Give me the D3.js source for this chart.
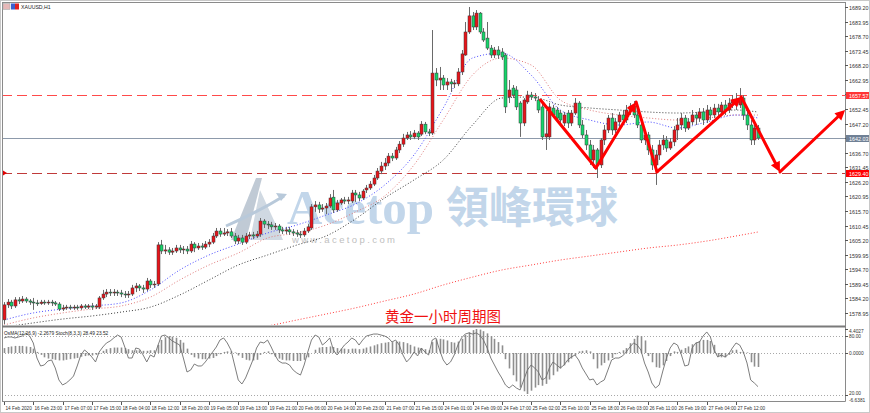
<!DOCTYPE html>
<html>
<head>
<meta charset="utf-8">
<script src="https://cdn.jsdelivr.net/npm/d3@7"></script>
<style>
  html, body { margin: 0; padding: 0; background: #fff; }
  svg { display: block; }
</style>
</head>
<body>
<svg id="chart" width="870" height="413"></svg>
<script>
// ---- data (XAUUSD H1) ----
// [open, high, low, close]
var candles = [
  [1576.5,1582.9,1575.0,1581.9],[1581.9,1584.0,1580.8,1582.9],[1582.9,1583.7,1580.4,1581.5],[1581.5,1584.7,1580.8,1583.7],
  [1583.7,1584.7,1582.2,1583.3],[1583.3,1585.1,1582.6,1584.0],[1584.0,1584.7,1582.6,1583.3],[1583.3,1584.0,1581.9,1582.9],
  [1582.9,1584.4,1580.1,1582.6],[1582.6,1583.7,1581.5,1582.4],[1582.4,1583.7,1581.9,1582.9],[1582.9,1583.7,1581.9,1582.6],
  [1582.6,1583.7,1581.9,1582.9],[1582.9,1583.7,1581.5,1582.6],[1582.6,1583.3,1581.5,1582.2],[1582.2,1582.9,1579.7,1580.4],
  [1580.4,1581.9,1579.7,1580.8],[1580.8,1581.9,1580.1,1581.1],[1581.1,1581.9,1580.1,1580.8],[1580.8,1581.9,1580.1,1581.1],
  [1581.1,1581.9,1580.1,1580.8],[1580.8,1582.2,1580.1,1581.5],[1581.5,1582.2,1580.4,1581.1],[1581.1,1582.2,1580.4,1581.5],
  [1581.5,1582.6,1580.1,1581.1],[1581.1,1582.2,1580.4,1581.5],[1581.1,1585.1,1580.4,1584.4],[1584.4,1587.3,1583.7,1585.8],
  [1585.8,1587.6,1584.7,1586.5],[1586.5,1587.6,1585.1,1586.2],[1586.2,1587.6,1585.1,1586.5],[1586.5,1587.3,1585.1,1586.2],
  [1586.2,1587.3,1584.7,1585.8],[1585.8,1586.9,1584.4,1585.5],[1585.5,1586.9,1584.4,1585.8],[1585.8,1589.1,1585.1,1588.0],
  [1588.0,1589.8,1586.5,1588.7],[1588.7,1589.4,1586.9,1588.0],[1588.0,1589.1,1586.2,1587.6],[1587.6,1591.6,1586.9,1590.5],
  [1590.5,1591.2,1588.0,1589.1],[1589.1,1590.5,1588.0,1589.4],[1589.4,1604.5,1588.7,1603.5],[1603.5,1605.3,1600.2,1601.3],
  [1601.3,1603.5,1600.2,1601.7],[1601.7,1602.7,1599.9,1600.9],[1600.9,1602.4,1599.9,1601.3],[1601.3,1603.5,1600.6,1602.4],
  [1602.4,1603.5,1600.6,1601.7],[1601.7,1603.1,1600.2,1602.0],[1602.0,1603.1,1600.2,1601.3],[1601.3,1604.9,1600.6,1603.8],
  [1603.8,1604.5,1600.9,1602.4],[1602.4,1604.2,1601.7,1603.1],[1603.1,1604.2,1601.7,1602.7],[1602.7,1604.9,1602.0,1603.8],
  [1603.8,1605.6,1602.7,1604.5],[1604.5,1607.8,1603.8,1606.7],[1606.7,1609.6,1606.0,1608.5],[1608.5,1609.6,1606.4,1607.4],
  [1607.4,1609.6,1606.7,1607.8],[1607.8,1609.2,1606.7,1608.2],[1608.2,1609.6,1606.0,1606.7],[1606.7,1607.8,1603.8,1604.9],
  [1604.9,1607.1,1603.8,1606.0],[1606.0,1607.1,1603.5,1604.5],[1604.5,1607.8,1603.8,1606.7],[1606.7,1608.2,1605.6,1607.1],
  [1607.1,1608.2,1605.6,1606.7],[1606.7,1608.5,1606.0,1607.4],[1607.4,1613.2,1606.4,1612.1],[1612.1,1612.8,1609.6,1611.0],
  [1611.0,1612.1,1609.2,1610.7],[1610.7,1611.8,1608.9,1610.0],[1610.0,1611.4,1608.9,1610.3],[1610.3,1611.0,1607.8,1608.9],
  [1608.9,1610.0,1607.4,1608.5],[1608.5,1610.0,1607.4,1608.9],[1608.9,1610.0,1607.1,1608.2],[1608.2,1609.2,1606.7,1607.8],
  [1607.8,1608.9,1606.4,1607.4],[1607.4,1608.5,1606.0,1607.1],[1607.1,1609.6,1606.4,1608.5],[1608.5,1611.0,1607.8,1610.0],
  [1609.6,1618.2,1608.9,1617.2],[1617.2,1619.3,1615.4,1617.9],[1617.9,1619.0,1615.0,1616.4],[1616.4,1618.2,1615.4,1616.8],
  [1616.8,1618.6,1614.6,1617.5],[1617.5,1621.8,1616.8,1620.4],[1620.7,1623.3,1615.0,1616.1],[1616.1,1619.7,1615.4,1618.6],
  [1618.6,1620.4,1617.9,1619.7],[1619.7,1620.8,1618.2,1619.3],[1619.3,1620.8,1618.2,1619.7],[1619.3,1623.3,1618.6,1622.2],
  [1622.2,1623.3,1619.0,1621.5],[1621.5,1622.6,1619.3,1620.4],[1620.4,1623.6,1619.7,1622.9],[1623.3,1625.1,1622.2,1624.0],
  [1624.0,1626.5,1623.3,1625.4],[1625.4,1628.7,1624.7,1627.6],[1627.6,1631.2,1626.9,1630.1],[1630.1,1633.4,1629.0,1631.9],
  [1631.9,1634.8,1630.5,1633.0],[1633.0,1636.6,1631.9,1635.5],[1635.5,1636.6,1633.7,1634.8],[1634.8,1638.8,1634.1,1637.7],
  [1637.7,1640.9,1636.6,1639.8],[1639.8,1643.5,1638.8,1642.0],[1642.0,1644.2,1641.3,1643.1],[1643.1,1644.5,1641.3,1642.4],
  [1642.4,1644.9,1641.6,1643.8],[1643.8,1644.5,1641.3,1642.4],[1643.4,1648.1,1642.7,1647.0],[1647.0,1647.8,1643.4,1644.2],
  [1644.2,1645.3,1642.7,1643.8],[1643.8,1680.9,1643.1,1665.4],[1665.4,1667.2,1660.7,1662.9],[1662.9,1667.6,1659.3,1663.6],
  [1663.6,1664.7,1659.3,1661.1],[1661.1,1663.6,1659.3,1662.2],[1662.2,1663.3,1658.6,1661.5],[1661.5,1662.9,1660.0,1661.8],
  [1661.5,1667.2,1660.7,1665.8],[1665.8,1673.7,1664.7,1672.3],[1671.9,1683.8,1671.6,1680.2],[1680.2,1689.2,1679.5,1686.0],
  [1686.0,1687.4,1680.9,1682.0],[1682.0,1688.1,1680.9,1687.0],[1687.0,1687.4,1679.5,1680.2],[1680.2,1681.6,1676.6,1677.3],
  [1678.0,1683.8,1673.7,1674.4],[1674.4,1675.5,1670.8,1671.9],[1671.9,1674.8,1670.8,1673.7],[1673.7,1675.1,1670.5,1671.9],
  [1673.0,1674.4,1670.1,1671.2],[1671.9,1672.6,1651.0,1653.2],[1656.8,1662.9,1654.6,1659.3],[1660.0,1661.1,1656.4,1657.5],
  [1659.3,1660.7,1652.1,1653.2],[1654.6,1655.3,1642.4,1647.4],[1647.4,1656.4,1646.3,1655.7],[1655.0,1659.0,1654.3,1657.5],
  [1657.5,1658.6,1655.7,1656.8],[1656.8,1658.2,1655.3,1656.4],[1655.7,1657.1,1651.0,1652.1],[1653.2,1654.3,1641.3,1642.4],
  [1642.4,1652.1,1637.7,1643.5],[1642.4,1654.6,1641.3,1653.2],[1652.8,1653.9,1649.2,1650.3],[1652.1,1653.2,1648.1,1649.2],
  [1651.0,1652.1,1646.7,1648.5],[1647.4,1651.4,1646.3,1650.3],[1651.0,1652.1,1645.6,1647.4],[1647.4,1652.1,1646.3,1651.0],
  [1651.0,1656.4,1650.3,1654.6],[1654.6,1655.3,1645.6,1646.7],[1646.7,1648.5,1642.0,1643.1],[1643.1,1644.9,1637.7,1639.5],
  [1639.5,1641.3,1632.3,1634.1],[1634.1,1639.5,1631.2,1637.7],[1637.7,1638.4,1627.6,1632.3],[1632.3,1642.0,1631.2,1641.3],
  [1641.3,1646.7,1639.5,1644.9],[1644.9,1650.3,1643.8,1649.2],[1649.2,1651.0,1643.1,1644.9],[1644.9,1649.2,1643.8,1647.8],
  [1647.8,1651.4,1645.6,1650.3],[1650.3,1652.1,1646.7,1648.5],[1648.5,1653.9,1647.4,1652.1],[1652.1,1654.6,1650.3,1653.5],
  [1653.5,1655.3,1649.2,1650.3],[1650.3,1652.1,1645.6,1646.7],[1646.7,1648.5,1640.2,1641.3],[1641.3,1644.9,1639.5,1643.1],
  [1643.1,1644.2,1635.9,1637.7],[1637.7,1639.5,1630.5,1632.3],[1632.3,1637.7,1625.1,1635.9],[1635.9,1641.3,1634.1,1639.5],
  [1639.5,1643.1,1637.7,1641.3],[1641.3,1642.7,1637.0,1638.4],[1638.4,1642.0,1637.7,1640.6],[1640.6,1646.3,1639.1,1644.9],
  [1644.9,1649.2,1641.3,1646.7],[1646.7,1651.0,1644.9,1649.2],[1649.2,1650.3,1644.2,1645.6],[1645.6,1649.2,1644.9,1647.8],
  [1647.8,1652.1,1646.7,1650.3],[1650.3,1651.4,1646.7,1649.2],[1649.2,1652.8,1647.8,1651.4],[1651.4,1652.8,1646.7,1648.5],
  [1648.5,1653.9,1647.4,1652.1],[1652.1,1653.2,1648.5,1650.3],[1650.3,1654.3,1649.2,1652.8],[1652.8,1654.3,1649.2,1651.4],
  [1651.4,1655.0,1650.3,1653.9],[1653.9,1655.7,1650.3,1652.1],[1652.1,1656.4,1651.0,1654.6],[1654.6,1657.5,1652.8,1655.7],
  [1655.7,1658.2,1652.1,1653.9],[1653.9,1660.0,1652.8,1656.4],[1656.4,1657.5,1648.5,1650.3],[1650.3,1652.1,1644.9,1646.7],
  [1646.7,1648.5,1639.5,1641.3],[1641.3,1646.7,1639.5,1645.6],[1645.6,1646.7,1641.3,1642.0]
];

// moving averages, sampled every 8 bars
var maIdx   = [0,8,16,24,32,40,48,56,64,72,80,88,96,104,112,120,128,136,144,152,160,168,176,184,192,200,206];
var maBlue  = [1576.45,1579.0,1580.4,1581.5,1582.6,1587.25,1594.46,1599.86,1603.82,1607.79,1610.67,1614.27,1618.23,1625.08,1635.88,1652.82,1670.83,1672.63,1664.70,1652.09,1648.49,1646.69,1647.77,1645.61,1647.77,1650.29,1649.21];
var maRed   = [1574.65,1577.2,1579.0,1580.4,1581.5,1584.7,1590.86,1596.26,1600.58,1605.99,1607.79,1610.67,1615.35,1621.12,1632.28,1648.49,1664.70,1670.83,1668.31,1655.70,1652.09,1650.29,1649.21,1648.49,1649.21,1650.29,1650.29];
var maBlack = [1573.9,1575.4,1576.8,1577.9,1579.3,1581.1,1585.45,1590.86,1596.26,1599.86,1603.46,1606.71,1612.83,1620.39,1626.88,1634.08,1646.69,1656.42,1656.78,1653.90,1652.82,1652.09,1651.37,1651.01,1651.37,1652.09,1651.37];
var ma200Idx = [56,64,72,80,88,96,104,112,120,128,136,144,152,160,168,176,184,192,200,206];
var ma200    = [1571.0,1572.8,1574.3,1576.45,1578.6,1580.8,1583.3,1585.8,1589.06,1591.9,1594.46,1596.26,1598.06,1599.5,1600.94,1602.38,1603.46,1604.90,1606.71,1608.15];

// OsMA histogram, one value per bar
var osma = [0.9,1.1,1.2,1.3,1.3,1.3,1.2,1.1,0.8,0.2,-0.3,
  -0.7,-0.9,-1.0,-1.1,-1.2,-1.2,-1.1,-1.0,-0.9,-0.8,-0.6,-0.5,-0.4,-0.4,-0.3,-0.1,
  0.4,0.7,0.9,1.0,1.0,1.0,0.9,0.7,0.5,0.5,0.5,0.4,0.4,0.5,0.5,
  1.5,2.4,2.9,3.1,3.0,2.8,2.4,1.9,0.8,-0.3,-0.7,-0.9,-1.0,-1.0,-0.9,-0.8,-0.5,
  -0.2,0.2,0.3,0.3,0.1,-0.4,-0.8,-1.1,-1.2,-1.2,-1.1,-0.3,0.2,0.3,-0.2,
  -0.6,-0.9,-1.1,-1.2,-1.2,-1.3,-1.3,-1.3,
  -1.1,-0.7,0.0,0.6,1.0,1.1,1.1,1.2,1.1,0.9,0.8,0.8,0.7,0.8,0.8,0.7,0.8,1.0,1.2,1.4,
  1.6,1.8,1.9,2.0,2.0,2.1,2.1,2.0,1.8,1.5,1.2,1.0,0.9,0.7,0.5,2.0,2.5,2.6,2.5,2.3,
  2.0,1.9,2.1,2.6,3.3,3.8,4.2,4.4,4.3,4.0,3.6,3.1,2.6,2.0,1.4,-1.0,-2.5,-3.6,-4.6,-5.6,
  -6.2,-6.64,-6.1,-5.6,-5.2,-5.3,-5.0,-4.3,-3.6,-3.0,-2.5,-2.0,-1.5,-0.9,-0.4,0.3,
  0.4,0.5,0.3,-1.0,-2.5,-2.0,-1.6,-1.2,-0.8,-0.2,0.2,0.5,0.9,1.8,2.6,3.2,3.1,2.3,
  -0.5,-1.5,-2.3,-2.4,-2.0,-1.3,-0.5,0.3,0.2,0.6,0.9,1.2,1.6,1.9,2.2,2.4,2.4,2.2,1.5,
  -0.5,-0.7,-0.7,-0.3,0.5,0.6,0.2,0.2,0.1,-1.5,-2.2,-2.27];

// Stochastic main line, one value per bar
var stoch = [78.0,79.0,79.0,78.0,79.0,80.0,83.1,80.0,72.9,57.6,49.5,50.5,54.6,55.6,47.5,35.3,
  30.2,32.2,35.3,39.3,49.5,60.7,65.8,62.7,58.6,53.6,63.7,68.8,72.9,74.9,78.0,81.0,
  79.0,68.8,57.6,57.6,67.8,66.8,60.7,53.6,60.7,58.6,69.8,80.0,81.0,78.0,74.9,72.9,
  70.8,57.6,43.4,45.4,51.5,49.5,49.5,53.6,58.6,63.7,68.8,75.9,78.0,72.9,65.8,50.5,
  35.3,31.2,37.3,46.4,55.6,67.8,73.9,72.9,75.9,68.8,60.7,54.6,52.5,52.5,50.5,45.4,
  42.4,40.3,50.5,63.7,75.9,81.0,79.0,70.8,73.9,78.0,65.8,60.7,65.8,70.8,73.9,78.0,
  75.9,70.8,75.9,80.0,81.0,82.0,82.0,81.0,80.0,78.0,73.9,75.9,70.8,60.7,53.6,57.6,
  63.7,59.7,67.8,63.7,60.7,75.9,78.0,65.8,55.6,50.5,53.6,60.7,70.8,78.0,82.0,83.1,
  82.0,83.1,81.0,75.9,67.8,57.6,50.5,43.4,37.3,30.2,27.1,30.2,27.1,25.1,35.3,45.4,
  50.5,47.5,43.4,35.3,37.3,47.5,53.6,50.5,47.5,50.5,55.6,58.6,60.7,55.6,47.5,41.4,
  35.3,36.3,30.2,33.2,35.3,45.4,55.6,57.6,57.6,59.7,63.7,68.8,72.9,70.8,65.8,52.5,
  43.4,32.2,27.1,30.2,44.4,57.6,67.8,72.9,70.8,61.7,49.5,50.5,67.8,72.9,73.9,80.0,
  84.1,79.0,65.8,58.6,60.7,58.6,61.7,67.8,72.9,70.8,63.7,52.5,35.3,32.2,28.5];

var priceTicks = ["1689.20","1683.95","1678.70","1673.45","1668.20","1662.95","1657.70","1652.45","1647.20","1641.95","1636.70",
  "1631.45","1626.20","1620.95","1615.70","1610.45","1605.20","1599.95","1594.70","1589.45","1584.20","1578.95"];
var timeLabels = ["14 Feb 2020","16 Feb 23:00","17 Feb 07:00","17 Feb 15:00","18 Feb 04:00","18 Feb 12:00","18 Feb 20:00",
  "19 Feb 05:00","19 Feb 13:00","19 Feb 21:00","20 Feb 06:00","20 Feb 14:00","20 Feb 23:00","21 Feb 07:00","21 Feb 15:00",
  "24 Feb 01:00","24 Feb 09:00","24 Feb 17:00","25 Feb 02:00","25 Feb 10:00","25 Feb 18:00","26 Feb 03:00","26 Feb 11:00",
  "26 Feb 19:00","27 Feb 04:00","27 Feb 12:00"];
var timeLabelStep = 8;

// horizontal levels: resistance, bid, support
var levelPrices = [1657.57, 1642.03, 1629.40];
var levelTexts  = ["1657.57", "1642.03", "1629.40"];

// hand-drawn zigzag (bar index, price)
var zigBars   = [146.6, 161.7, 172.7, 178.4, 201.4, 212.0, 229.8];
var zigPrices = [1655.7, 1631.2, 1655.0, 1629.8, 1656.8, 1629.8, 1652.1];
var zigHeads  = [2, 4, 5, 6];

var osmaTicks  = [4.4027, 0, -6.6381];
var stochTicks = [80, 20];

// ---- layout ----
var svg = d3.select("#chart");
var plotL = 2, plotR = 845, plotT = 3, plotB = 325;
var indT = 328, indB = 401;

var x = d3.scaleLinear().domain([0, candles.length - 1]).range([4, 758]);
var y = d3.scaleLinear().domain([1574.65, 1690.64]).range([plotB, plotT]);
var yOsma = d3.scaleLinear().domain([-6.6381, 0, 4.4027]).range([394, 353, 329]);
var yStoch = d3.scaleLinear().domain([20, 80]).range([395, 336]);

var defs = svg.append("defs");
defs.append("clipPath").attr("id", "clipMain").append("rect")
  .attr("x", plotL + 1).attr("y", plotT).attr("width", plotR - plotL - 1).attr("height", plotB - plotT);
defs.append("clipPath").attr("id", "clipInd").append("rect")
  .attr("x", plotL + 1).attr("y", indT).attr("width", plotR - plotL - 1).attr("height", indB - indT);

svg.append("rect").attr("x", 0.5).attr("y", 0.5).attr("width", 869).attr("height", 412)
  .attr("fill", "#fff").attr("stroke", "#c8c8c8");

// ---- watermark ----
var wm = svg.append("g");
wm.append("path").attr("d", "M231,240 L256,178 L262,178 L246,240 Z").attr("fill", "#c0cad5");
wm.append("path").attr("d", "M250,240 L260,190 L283,240 Z").attr("fill", "#d0d9e2");
wm.append("path").attr("d", "M226,226 Q258,212 284,196").attr("fill", "none").attr("stroke", "#b8c9da").attr("stroke-width", 3);
wm.append("path").attr("d", "M276,193 L287,194 L281,201 Z").attr("fill", "#b8c9da");
wm.append("text").attr("x", 287).attr("y", 224).text("Acetop")
  .attr("font-family", "'Liberation Serif', 'DejaVu Serif', serif").attr("font-weight", "bold")
  .attr("font-size", 49).attr("fill", "#c2d6ea");
wm.append("text").attr("x", 446).attr("y", 223).text("領峰環球")
  .attr("font-family", "'Noto Sans CJK TC', sans-serif").attr("font-weight", "bold")
  .attr("font-size", 43).attr("fill", "#c2d6ea");
wm.append("text").attr("x", 292).attr("y", 243).text("www.acetop.com")
  .attr("font-family", "'Liberation Sans', Arial, sans-serif").attr("font-size", 9.5)
  .attr("letter-spacing", 2.4).attr("fill", "#c0c0c0");

// ---- main chart ----
var main = svg.append("g").attr("clip-path", "url(#clipMain)");

// level lines
levelPrices.forEach(function(p, i) {
  var ln = main.append("line").attr("x1", plotL).attr("x2", plotR)
    .attr("y1", Math.round(y(p)) + 0.5).attr("y2", Math.round(y(p)) + 0.5);
  if (i === 0) ln.attr("stroke", "#ff4a4a").attr("stroke-dasharray", "10,5");
  if (i === 1) ln.attr("stroke", "#8d9aab");
  if (i === 2) ln.attr("stroke", "#c03a3a").attr("stroke-dasharray", "10,5");
});

function maLine(idx, vals, color) {
  var pts = idx.map(function(d, i) { return [x(d), y(vals[i])]; });
  main.append("path").attr("d", d3.line().curve(d3.curveMonotoneX)(pts))
    .attr("fill", "none").attr("stroke", color).attr("stroke-width", 1)
    .attr("stroke-dasharray", "1,2");
}
maLine(ma200Idx, ma200, "#ff3b3b");
maLine(maIdx, maBlack, "#3c3c3c");
maLine(maIdx, maRed, "#e07b7b");
maLine(maIdx, maBlue, "#4a4aff");

// candles
var cg = main.append("g");
candles.forEach(function(c, i) {
  var cx = Math.round(x(i)) + 0.5;
  var up = c[3] >= c[0];
  cg.append("line").attr("x1", cx).attr("x2", cx)
    .attr("y1", y(c[1])).attr("y2", y(c[2]))
    .attr("stroke", "#6a6a6a").attr("stroke-width", 1);
  var top = y(Math.max(c[0], c[3])), bot = y(Math.min(c[0], c[3]));
  cg.append("rect").attr("x", cx - 1.5).attr("width", 3)
    .attr("y", top).attr("height", Math.max(0.9, bot - top))
    .attr("fill", up ? "#e8141a" : "#16d46a")
    .attr("stroke", "#3a3a3a").attr("stroke-width", 0.5);
});

// zigzag arrows
var zg = svg.append("g");
for (var k = 0; k < zigBars.length - 1; k++) {
  var x0 = x(zigBars[k]), y0 = y(zigPrices[k]);
  var x1 = x(zigBars[k + 1]), y1 = y(zigPrices[k + 1]);
  var ang = Math.atan2(y1 - y0, x1 - x0);
  var head = zigHeads.indexOf(k + 1) >= 0;
  var len = head ? 8 : 0;
  zg.append("line").attr("x1", x0).attr("y1", y0)
    .attr("x2", x1 - Math.cos(ang) * len).attr("y2", y1 - Math.sin(ang) * len)
    .attr("stroke", "#ff0000").attr("stroke-width", 3).attr("stroke-linecap", "round");
  if (head) {
    var hl = 10, hw = 5;
    var bx = x1 - Math.cos(ang) * hl, by = y1 - Math.sin(ang) * hl;
    var px = -Math.sin(ang) * hw, py = Math.cos(ang) * hw;
    zg.append("path").attr("d", "M" + x1 + "," + y1 + "L" + (bx + px) + "," + (by + py) + "L" + (bx - px) + "," + (by - py) + "Z")
      .attr("fill", "#ff0000");
  }
}

svg.append("text").attr("x", 385).attr("y", 322).text("黄金一小时周期图")
  .attr("font-family", "'Noto Sans CJK SC', sans-serif").attr("font-size", 14.5).attr("fill", "#f01010");

// ---- indicator window ----
var ind = svg.append("g").attr("clip-path", "url(#clipInd)");
stochTicks.forEach(function(v) {
  ind.append("line").attr("x1", plotL).attr("x2", plotR)
    .attr("y1", Math.round(yStoch(v)) + 0.5).attr("y2", Math.round(yStoch(v)) + 0.5)
    .attr("stroke", "#a8a8a8").attr("stroke-dasharray", "1,2");
});
ind.append("line").attr("x1", plotL).attr("x2", plotR)
  .attr("y1", yOsma(0) + 0.5).attr("y2", yOsma(0) + 0.5)
  .attr("stroke", "#a8a8a8").attr("stroke-dasharray", "1,2");
osma.forEach(function(v, i) {
  var cx = Math.round(x(i)) + 0.5;
  ind.append("line").attr("x1", cx).attr("x2", cx)
    .attr("y1", yOsma(0)).attr("y2", yOsma(v))
    .attr("stroke", "#8e8e8e").attr("stroke-width", 1.6);
});
ind.append("path")
  .attr("d", d3.line().x(function(d, i) { return x(i); }).y(function(d) { return yStoch(d); })(stoch))
  .attr("fill", "none").attr("stroke", "#6e6e6e").attr("stroke-width", 0.9);

// ---- frame ----
var frame = svg.append("g").attr("stroke", "#8a8a8a").attr("fill", "none");
frame.append("line").attr("x1", plotL).attr("x2", plotR + 0.5).attr("y1", 2.5).attr("y2", 2.5);
frame.append("line").attr("x1", plotL + 0.5).attr("x2", plotL + 0.5).attr("y1", 2).attr("y2", indB);
frame.append("line").attr("x1", plotR + 0.5).attr("x2", plotR + 0.5).attr("y1", 2).attr("y2", indB + 0.5);
frame.append("line").attr("x1", plotL).attr("x2", plotR + 0.5).attr("y1", 326.5).attr("y2", 326.5).attr("stroke-width", 2.2).attr("stroke", "#7a7a7a");
frame.append("line").attr("x1", plotL).attr("x2", plotR + 0.5).attr("y1", indB + 0.5).attr("y2", indB + 0.5);

// title + icons
svg.append("rect").attr("x", 3).attr("y", 3.5).attr("width", 7).attr("height", 6).attr("fill", "#e6b8b8").attr("stroke", "#9aa").attr("stroke-width", 0.5);
svg.append("rect").attr("x", 11).attr("y", 3.5).attr("width", 4).attr("height", 6).attr("fill", "#3a5fd0");
svg.append("rect").attr("x", 15).attr("y", 3.5).attr("width", 4).attr("height", 6).attr("fill", "#e02020");
var fontAx = "'Liberation Sans', Arial, sans-serif";
svg.append("text").attr("x", 21).attr("y", 8.8).text("XAUUSD,H1")
  .attr("font-family", fontAx).attr("font-size", 5.2).attr("fill", "#222");
svg.append("text").attr("x", 4).attr("y", 334.5).text("OsMA(12,26,9) -2.2679 Stoch(8,3,3) 28.49 23.52")
  .attr("font-family", fontAx).attr("font-size", 4.8).attr("fill", "#222");

// support marker on left edge
svg.append("path").attr("d", "M3," + (y(levelPrices[2]) - 2.5) + "L7," + y(levelPrices[2]) + "L3," + (y(levelPrices[2]) + 2.5) + "Z")
  .attr("fill", "#e00000");

// right price axis
var ax = svg.append("g").attr("font-family", fontAx).attr("font-size", 5.4).attr("fill", "#333");
priceTicks.forEach(function(t) {
  var py = Math.round(y(+t)) + 0.5;
  ax.append("line").attr("x1", plotR).attr("x2", plotR + 3).attr("y1", py).attr("y2", py).attr("stroke", "#555");
  ax.append("text").attr("x", 849).attr("y", py + 2).text(t);
});
levelPrices.forEach(function(p, i) {
  var py = Math.round(y(p)) + 0.5;
  ax.append("rect").attr("x", plotR + 1).attr("y", py - 3.5).attr("width", 23).attr("height", 7)
    .attr("fill", i === 1 ? "#6f8095" : (i === 0 ? "#ff3535" : "#ff0000"));
  ax.append("text").attr("x", 849).attr("y", py + 2).text(levelTexts[i]).attr("fill", "#fff");
});

// indicator axis labels
var ia = svg.append("g").attr("font-family", fontAx).attr("font-size", 4.8).attr("fill", "#333");
ia.append("text").attr("x", 849).attr("y", yOsma(osmaTicks[0]) + 3.5).text("4.4027");
ia.append("text").attr("x", 849).attr("y", yStoch(stochTicks[0]) + 2).text("80.00");
ia.append("text").attr("x", 849).attr("y", yOsma(osmaTicks[1]) + 2).text("0.0000");
ia.append("text").attr("x", 849).attr("y", yStoch(stochTicks[1]) - 0.5).text("20.00");
ia.append("text").attr("x", 849).attr("y", 401.5).text("-6.6381");
[yOsma(osmaTicks[0]), yStoch(stochTicks[0]), yOsma(0), yStoch(stochTicks[1])].forEach(function(v) {
  ia.append("line").attr("x1", plotR).attr("x2", plotR + 3).attr("y1", v + 0.5).attr("y2", v + 0.5).attr("stroke", "#555");
});

// time axis
var ta = svg.append("g").attr("font-family", fontAx).attr("font-size", 4.7).attr("fill", "#333");
timeLabels.forEach(function(t, i) {
  var tx = Math.round(x(i * timeLabelStep)) + 0.5;
  ta.append("line").attr("x1", tx).attr("x2", tx).attr("y1", indB + 1).attr("y2", indB + 4).attr("stroke", "#555");
  ta.append("text").attr("x", tx + 1).attr("y", 409.5).text(t);
});
</script>
</body>
</html>
